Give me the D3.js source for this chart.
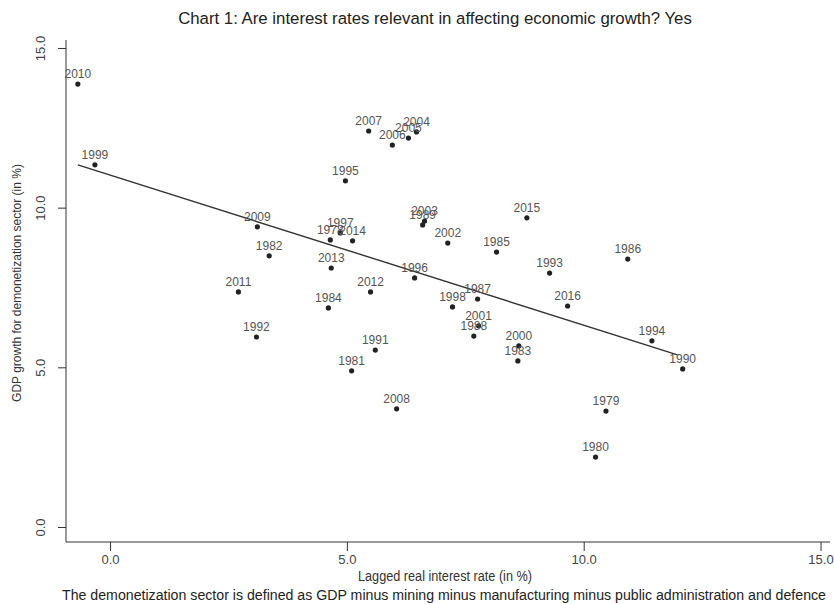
<!DOCTYPE html>
<html>
<head>
<meta charset="utf-8">
<script src="https://cdn.jsdelivr.net/npm/d3@7"></script>
<style>
  body { margin: 0; background: #fff; }
  svg { display: block; font-family: "Liberation Sans", Arial, sans-serif; }
</style>
</head>
<body>
<svg id="chart"></svg>
<script>
// years, lagged real interest rate (x) and GDP growth (y)
const years = [2010, 1999, 2007, 2006, 2005, 2004, 1995, 2009, 1997, 1978, 2014, 2013, 1982, 2011,
  2012, 1984, 1992, 1991, 1981, 2008, 1996, 2003, 1989, 2002, 1985, 2015, 1993, 1986, 2016, 1994,
  1990, 1987, 1998, 2001, 1988, 2000, 1983, 1979, 1980];
const rates = [-0.68, -0.32, 5.46, 5.96, 6.30, 6.47, 4.97, 3.11, 4.86, 4.65, 5.12, 4.67, 3.36, 2.71,
  5.50, 4.61, 3.09, 5.60, 5.10, 6.05, 6.43, 6.64, 6.60, 7.13, 8.16, 8.80, 9.28, 10.93, 9.66, 11.44,
  12.09, 7.76, 7.23, 7.78, 7.68, 8.63, 8.61, 10.47, 10.25];
const growth = [13.87, 11.34, 12.40, 11.96, 12.18, 12.37, 10.84, 9.40, 9.21, 8.99, 8.96, 8.11, 8.49, 7.36,
  7.36, 6.86, 5.95, 5.54, 4.89, 3.70, 7.80, 9.58, 9.46, 8.89, 8.61, 9.68, 7.95, 8.39, 6.92, 5.83,
  4.95, 7.14, 6.89, 6.30, 5.98, 5.67, 5.20, 3.63, 2.19];
// fitted line end points
const fitX = [-0.68, 11.98];
const fitY = [11.34, 5.39];
const xTicks = [0, 5, 10, 15];
const yTicks = [0, 5, 10, 15];

const width = 834, height = 604;
const margin = {top: 40, right: 4, bottom: 62, left: 66};

const svg = d3.select('#chart')
    .attr('width', width)
    .attr('height', height);

const x = d3.scaleLinear()
    .domain([-0.93, 15.2])
    .range([margin.left, width - margin.right]);

const y = d3.scaleLinear()
    .domain([-0.47, 15.25])
    .range([height - margin.bottom, margin.top]);

const ink = '#333';

// axes
const xAxis = d3.axisBottom(x).tickValues(xTicks).tickFormat(d3.format('.1f')).tickSize(9).tickPadding(4);
const yAxis = d3.axisLeft(y).tickValues(yTicks).tickFormat(d3.format('.1f')).tickSize(8).tickPadding(4);

const gx = svg.append('g')
    .attr('transform', 'translate(0,' + (height - margin.bottom) + ')')
    .call(xAxis);
gx.select('.domain').attr('d', 'M' + margin.left + ',0H' + (width - margin.right));
gx.selectAll('line').attr('stroke', ink);
gx.select('.domain').attr('stroke', ink);
gx.selectAll('text').attr('fill', '#444').style('font-size', '13px');

const gy = svg.append('g')
    .attr('transform', 'translate(' + margin.left + ',0)')
    .call(yAxis);
gy.select('.domain').attr('d', 'M0,' + margin.top + 'V' + (height - margin.bottom));
gy.selectAll('line').attr('stroke', ink);
gy.select('.domain').attr('stroke', ink);
gy.selectAll('.tick text')
    .attr('fill', '#444')
    .style('font-size', '13px')
    .attr('text-anchor', 'middle')
    .attr('x', 0).attr('dy', 0)
    .attr('transform', 'translate(-21,0) rotate(-90)');

// fitted line
svg.append('line')
    .attr('x1', x(fitX[0])).attr('y1', y(fitY[0]))
    .attr('x2', x(fitX[1])).attr('y2', y(fitY[1]))
    .attr('stroke', '#333')
    .attr('stroke-width', 1.4);

// points
const pts = years.map((yr, i) => ({year: yr, x: rates[i], y: growth[i]}));

svg.selectAll('.dot')
    .data(pts)
    .join('circle')
    .attr('class', 'dot')
    .attr('cx', d => x(d.x))
    .attr('cy', d => y(d.y))
    .attr('r', 2.6)
    .attr('fill', '#222');

svg.selectAll('.lbl')
    .data(pts)
    .join('text')
    .attr('class', 'lbl')
    .attr('x', d => x(d.x))
    .attr('y', d => y(d.y) - 6)
    .attr('text-anchor', 'middle')
    .attr('fill', '#555')
    .style('font-size', '12px')
    .text(d => d.year);

// titles
svg.append('text')
    .attr('x', 435).attr('y', 24)
    .attr('text-anchor', 'middle')
    .attr('fill', '#222')
    .style('font-size', '16.8px')
    .text('Chart 1: Are interest rates relevant in affecting economic growth? Yes');

svg.append('text')
    .attr('x', 445).attr('y', 581)
    .attr('text-anchor', 'middle')
    .attr('fill', '#333')
    .style('font-family', '"Liberation Sans Narrow", "Arial Narrow", sans-serif')
    .style('font-size', '14px')
    .attr('textLength', 174)
    .attr('lengthAdjust', 'spacingAndGlyphs')
    .text('Lagged real interest rate (in %)');

svg.append('text')
    .attr('transform', 'translate(21,283) rotate(-90)')
    .attr('text-anchor', 'middle')
    .attr('fill', '#333')
    .style('font-size', '12px')
    .text('GDP growth for demonetization sector (in %)');

svg.append('text')
    .attr('x', 444).attr('y', 600)
    .attr('text-anchor', 'middle')
    .attr('fill', '#222')
    .style('font-family', '"Liberation Sans Narrow", "Arial Narrow", sans-serif')
    .style('font-size', '14px')
    .attr('textLength', 764)
    .attr('lengthAdjust', 'spacingAndGlyphs')
    .text('The demonetization sector is defined as GDP minus mining minus manufacturing minus public administration and defence');
</script>
</body>
</html>
